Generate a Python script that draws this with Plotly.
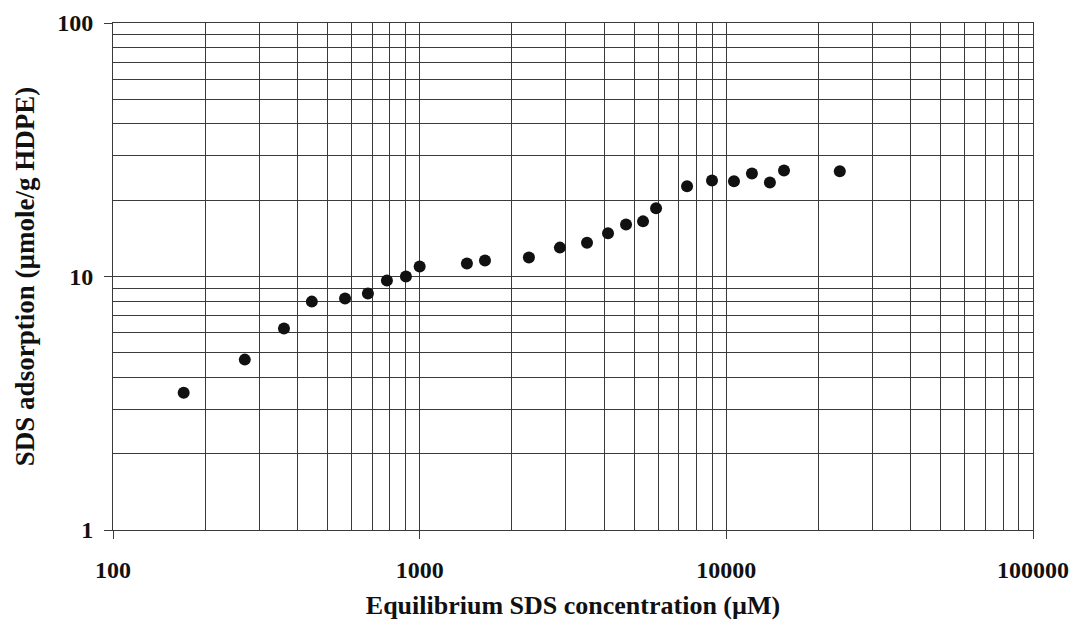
import plotly.graph_objects as go

conc_uM = [170, 269, 361, 445, 571, 678, 782, 902, 1000, 1426, 1633, 2271, 2866, 3513,
           4113, 4709, 5350, 5900, 7447, 8980, 10590, 12120, 13870, 15420, 23440]
adsorption = [3.48, 4.70, 6.23, 7.96, 8.19, 8.57, 9.64, 10.0, 10.95, 11.25, 11.57, 11.89,
              13.0, 13.6, 14.8, 16.05, 16.5, 18.6, 22.7, 23.9, 23.75, 25.5, 23.5, 26.2, 26.0]

x_major = [100, 1000, 10000, 100000]
x_major_text = ["100", "1000", "10000", "100000"]
y_major = [1, 10, 100]
y_major_text = ["1", "10", "100"]

x_minor = [m * d for d in (100, 1000, 10000) for m in range(2, 10)]
y_minor = [m * d for d in (1, 10) for m in range(2, 10)]

font_family = "Liberation Serif"
grid_col = "#3a3a3a"

fig = go.Figure()
fig.add_trace(go.Scatter(
    x=conc_uM, y=adsorption, mode="markers",
    marker=dict(color="#111111", size=12),
    showlegend=False,
))

fig.update_layout(
    width=1071, height=620,
    margin=dict(l=105, r=46, t=15, b=98),
    paper_bgcolor="white", plot_bgcolor="white",
    font=dict(family=font_family, color="#111111"),
)
fig.update_xaxes(
    type="log", range=[2, 5], automargin=False,
    tickmode="array", tickvals=x_major, ticktext=x_major_text,
    tickfont=dict(size=24, family=font_family, weight="bold"),
    ticks="outside", ticklen=8, tickcolor=grid_col,
    ticklabelstandoff=10,
    showgrid=True, gridcolor=grid_col, gridwidth=1,
    minor=dict(tickmode="array", tickvals=x_minor, showgrid=True,
               gridcolor=grid_col, gridwidth=1, ticks=""),
    showline=True, linecolor=grid_col, linewidth=1, mirror=True,
    zeroline=False,
    title=dict(text="Equilibrium SDS concentration (µM)",
               font=dict(size=26, family=font_family, weight="bold"), standoff=14),
)
fig.update_yaxes(
    type="log", range=[0, 2], automargin=False,
    tickmode="array", tickvals=y_major, ticktext=y_major_text,
    tickfont=dict(size=24, family=font_family, weight="bold"),
    ticks="outside", ticklen=8, tickcolor=grid_col,
    ticklabelstandoff=6,
    showgrid=True, gridcolor=grid_col, gridwidth=1,
    minor=dict(tickmode="array", tickvals=y_minor, showgrid=True,
               gridcolor=grid_col, gridwidth=1, ticks=""),
    showline=True, linecolor=grid_col, linewidth=1, mirror=True,
    zeroline=False,
    title=dict(text="SDS adsorption (µmole/g HDPE)",
               font=dict(size=27, family=font_family, weight="bold"), standoff=14),
)

fig.write_html("out.html")
